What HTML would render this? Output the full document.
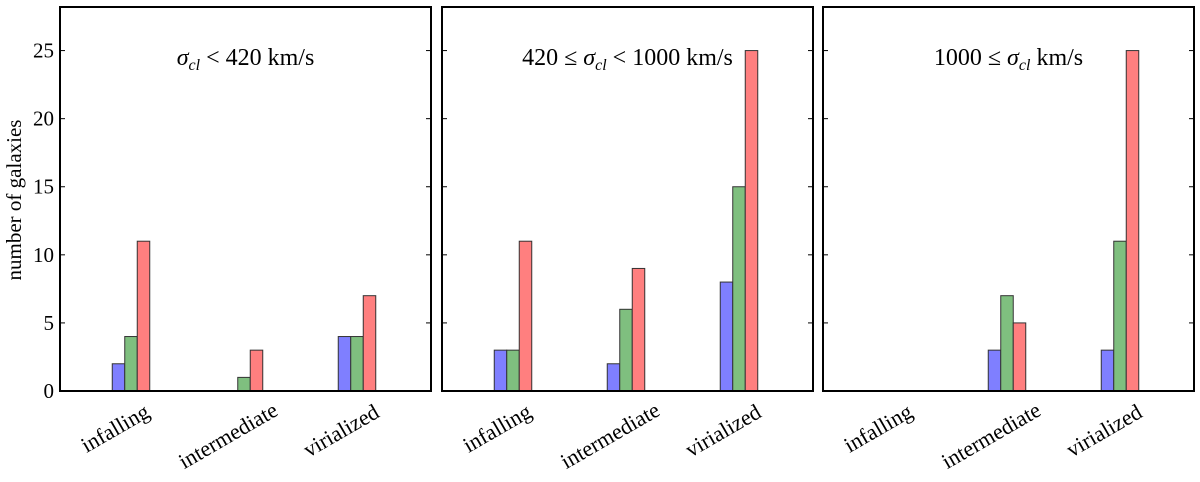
<!DOCTYPE html>
<html><head><meta charset="utf-8">
<style>
html,body{margin:0;padding:0;background:#fff;}
svg text{font-family:"Liberation Serif",serif;fill:#000;}
</style></head>
<body>
<svg id="chart" width="1200" height="477" viewBox="0 0 1200 477" xmlns="http://www.w3.org/2000/svg">
<text transform="translate(21,200) rotate(-90)" text-anchor="middle" font-size="21">number of galaxies</text>
</svg>
<script>
const categories = ["infalling","intermediate","virialized"];
const panelTitles = ["<tspan font-style='italic'>σ</tspan><tspan font-size='16' dy='5' font-style='italic'>cl</tspan><tspan dy='-5'> &lt; 420 km/s</tspan>",
 "420 ≤ <tspan font-style='italic'>σ</tspan><tspan font-size='16' dy='5' font-style='italic'>cl</tspan><tspan dy='-5'> &lt; 1000 km/s</tspan>",
 "1000 ≤ <tspan font-style='italic'>σ</tspan><tspan font-size='16' dy='5' font-style='italic'>cl</tspan><tspan dy='-5'> km/s</tspan>"];
const blueValues = [[2,0,4],[3,2,8],[0,3,3]];
const greenValues = [[4,1,4],[3,6,15],[0,7,11]];
const redValues = [[11,3,7],[11,9,25],[0,5,25]];
const yTicks = [0,5,10,15,20,25];
const yMax = 28.2;

const svg = document.getElementById('chart');
const NS = "http://www.w3.org/2000/svg";
const panelLefts = [60,442,823];
const panelW = 371, plotTop = 7, plotBottom = 391;
const yScale = v => plotBottom - v/yMax*(plotBottom-plotTop);
const gx = (p,i) => panelLefts[p] + 71 + i*113;
const bw = 12.5;
const colors = ["#7f7fff","#7fbf7f","#ff7f7f"];
const series = [blueValues, greenValues, redValues];
const seriesNames = ["blue","green","red"];
function mk(tag, attrs){ const e=document.createElementNS(NS,tag); for(const k in attrs) e.setAttribute(k,attrs[k]); svg.appendChild(e); return e; }

for(let p=0;p<3;p++){
  const L = panelLefts[p];
  for(let i=0;i<categories.length;i++){
    for(let s=0;s<3;s++){
      const v = series[s][p][i];
      if(v<=0) continue;
      const r = mk('rect',{x:gx(p,i)-bw*1.5+s*bw, y:yScale(v), width:bw, height:plotBottom-yScale(v), fill:colors[s], stroke:"#333", 'stroke-width':1});
      
      
    }
    const len = categories[i].length*9.8;
    const tx = gx(p,i)-16, ty = 398 + len*0.25 + 8;
    const t = mk('text',{x:tx, y:ty, 'text-anchor':'middle', 'dominant-baseline':'central', 'font-size':22, transform:`rotate(-30 ${tx} ${ty})`});
    t.textContent = categories[i];
    
    
  }
  for(const tv of yTicks){
    const yy = yScale(tv);
    const t1 = mk('line',{x1:L, x2:L+5, y1:yy, y2:yy, stroke:"#000", 'stroke-width':1});
    
    
    const t2 = mk('line',{x1:L+panelW-5, x2:L+panelW, y1:yy, y2:yy, stroke:"#000", 'stroke-width':1});
    
    
    if(p===0){
      const lb = mk('text',{x:L-6, y:yy+7, 'text-anchor':'end', 'font-size':21});
      lb.textContent = tv;
      
      
    }
  }
  const fr = mk('rect',{x:L, y:plotTop, width:panelW, height:plotBottom-plotTop, fill:"none", stroke:"#000", 'stroke-width':2});
  
  
  const ti = mk('text',{x:L+panelW/2, y:65, 'text-anchor':'middle', 'font-size':24});
  ti.innerHTML = panelTitles[p];
  
  
}
</script>
</body></html>
